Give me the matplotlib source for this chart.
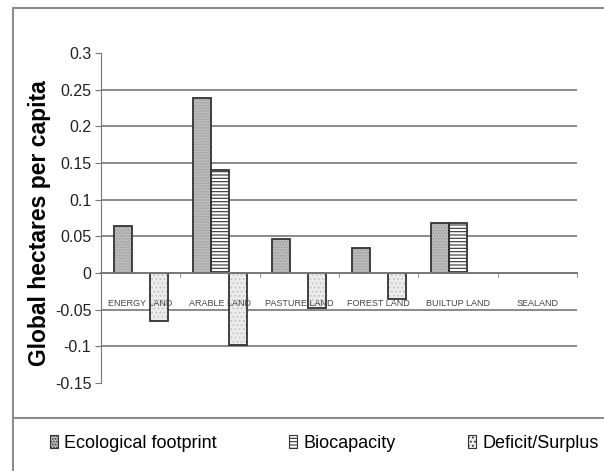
import matplotlib.pyplot as plt
import numpy as np
from matplotlib.patches import Rectangle, Patch

plt.rcParams['font.family'] = ['Liberation Sans', 'DejaVu Sans']
plt.rcParams['hatch.linewidth'] = 0.8

categories = ['ENERGY LAND', 'ARABLE LAND', 'PASTURE LAND', 'FOREST LAND',
              'BUILTUP LAND', 'SEALAND']
footprint = [0.064, 0.239, 0.047, 0.034, 0.068, 0.0]
biocapacity = [0.0, 0.140, 0.0, 0.0, 0.068, 0.0]
deficit = [-0.066, -0.098, -0.048, -0.035, 0.0, 0.0]
yticks = [-0.15, -0.1, -0.05, 0, 0.05, 0.1, 0.15, 0.2, 0.25, 0.3]
ytick_labels = ['-0.15', '-0.1', '-0.05', '0', '0.05', '0.1', '0.15', '0.2', '0.25', '0.3']
grid_vals = [-0.1, -0.05, 0.05, 0.1, 0.15, 0.2, 0.25]

fig = plt.figure(figsize=(6.04, 4.71), dpi=100)
ax = fig.add_axes([101 / 604, 1 - 383 / 471, 476 / 604, 330 / 471])

# outer frame + legend separator
fig.patches.append(Rectangle((13 / 604, -0.01), 1.0, 1 - 8 / 471 + 0.01,
                             transform=fig.transFigure, fill=False,
                             edgecolor='#8c8c8c', lw=1.5))
fig.lines.append(plt.Line2D([13 / 604, 1], [1 - 418 / 471] * 2,
                            transform=fig.transFigure, color='#8c8c8c', lw=1.5))

x = np.arange(len(categories))
w = 0.228
series = [
    (footprint, -w, '#bdbdbd', '......', '#9a9a9a'),
    (biocapacity, 0, 'white', '-----', '#333333'),
    (deficit, w, '#ececec', '....', '#c4c4c4'),
]
for vals, off, fc, hatch, hc in series:
    vals = np.array(vals)
    keep = vals != 0
    ax.bar(x[keep] + off, vals[keep], w, color=fc, hatch=hatch, edgecolor=hc, lw=0, zorder=2)
    ax.bar(x[keep] + off, vals[keep], w, fill=False, edgecolor='#333333', lw=1.3, zorder=2.1)

for v in grid_vals:
    ax.axhline(v, color='#8a8a8a', lw=1.4, zorder=1)

ax.set_axisbelow(False)
ax.set_xlim(-0.5, len(categories) - 0.5)
ax.set_ylim(-0.15, 0.3)
ax.set_yticks(yticks)
ax.set_yticklabels(ytick_labels, fontsize=11.5, color='#222222')
ax.tick_params(axis='y', direction='out', length=4, color='#777777', pad=3)

ax.spines['top'].set_visible(False)
ax.spines['right'].set_visible(False)
ax.spines['left'].set_color('#777777')
ax.spines['bottom'].set_position(('data', 0))
ax.spines['bottom'].set_color('#777777')
ax.spines['bottom'].set_linewidth(1.4)

ax.set_xticks(x)
ax.set_xticklabels(categories, fontsize=6.5, color='#444444')
ax.tick_params(axis='x', length=0, pad=19)
ax.set_xticks(np.arange(len(categories) + 1) - 0.5, minor=True)
ax.tick_params(axis='x', which='minor', direction='out', length=3, color='#777777')

ax.set_ylabel('Global hectares per capita', fontsize=16.5, fontweight='bold')
ax.yaxis.set_label_coords(-50 / 476, 0.485)

handles = [Patch(facecolor=s[2], hatch=s[3], edgecolor='#333333', lw=0.8) for s in series]
fig.legend(handles, ['Ecological footprint', 'Biocapacity', 'Deficit/Surplus'],
           loc='center', bbox_to_anchor=(0.537, 1 - 443 / 471), ncol=3, frameon=False,
           fontsize=13, handlelength=0.45, handleheight=0.75, handletextpad=0.35,
           columnspacing=4.0)

fig.savefig('out.png', dpi=100)
